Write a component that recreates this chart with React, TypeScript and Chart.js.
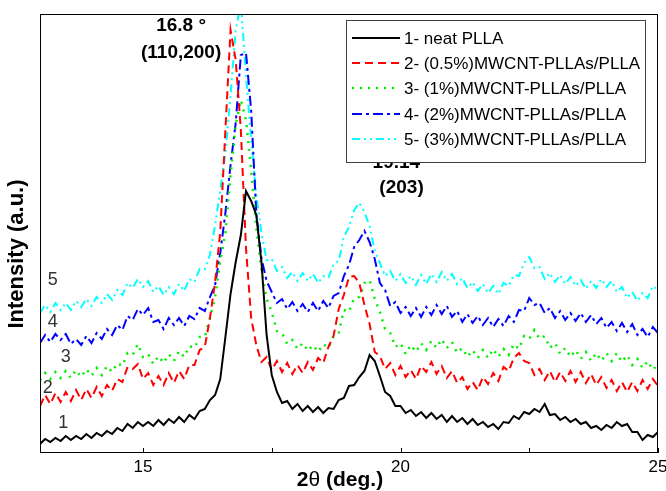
import React, { useEffect, useRef } from 'react';
import { Chart, registerables } from 'chart.js';

Chart.register(...registerables);

// 2θ positions (deg.)
const twoTheta = [
  13.0, 13.1, 13.2, 13.3, 13.4, 13.5, 13.6, 13.7, 13.8, 13.9,
  14.0, 14.1, 14.2, 14.3, 14.4, 14.5, 14.6, 14.7, 14.8, 14.9,
  15.0, 15.1, 15.2, 15.3, 15.4, 15.5, 15.6, 15.7, 15.8, 15.9,
  16.0, 16.1, 16.2, 16.3, 16.4, 16.5, 16.6, 16.7, 16.8, 16.9,
  17.0, 17.1, 17.2, 17.3, 17.4, 17.5, 17.6, 17.7, 17.8, 17.9,
  18.0, 18.1, 18.2, 18.3, 18.4, 18.5, 18.6, 18.7, 18.8, 18.9,
  19.0, 19.1, 19.2, 19.3, 19.4, 19.5, 19.6, 19.7, 19.8, 19.9,
  20.0, 20.1, 20.2, 20.3, 20.4, 20.5, 20.6, 20.7, 20.8, 20.9,
  21.0, 21.1, 21.2, 21.3, 21.4, 21.5, 21.6, 21.7, 21.8, 21.9,
  22.0, 22.1, 22.2, 22.3, 22.4, 22.5, 22.6, 22.7, 22.8, 22.9,
  23.0, 23.1, 23.2, 23.3, 23.4, 23.5, 23.6, 23.7, 23.8, 23.9,
  24.0, 24.1, 24.2, 24.3, 24.4, 24.5, 24.6, 24.7, 24.8, 24.9,
  25.0,
];

// Intensity (a.u., curves offset as in the figure)
const neatPLLA = [
  9, 14, 11, 15, 12, 17, 13, 17, 14, 19,
  15, 20, 17, 22, 19, 25, 22, 29, 25, 31,
  27, 31, 27, 33, 28, 34, 30, 36, 31, 38,
  34, 42, 44, 53, 58, 74, 116, 159, 191, 218,
  262, 252, 238, 191, 118, 78, 61, 50, 52, 44,
  49, 42, 47, 41, 46, 40, 45, 44, 53, 55,
  67, 68, 76, 82, 98, 92, 77, 61, 57, 47,
  47, 40, 43, 37, 41, 35, 40, 34, 38, 31,
  37, 31, 35, 29, 34, 28, 31, 26, 29, 24,
  31, 30, 37, 34, 41, 39, 44, 41, 49, 38,
  39, 33, 36, 31, 34, 29, 31, 25, 27, 23,
  28, 25, 31, 27, 29, 21, 21, 13, 18, 16,
  21,
];

const mwcnt05 = [
  47, 58, 49, 60, 51, 61, 52, 63, 53, 64,
  55, 66, 57, 68, 62, 74, 71, 86, 84, 89,
  74, 80, 68, 77, 68, 80, 70, 82, 74, 88,
  88, 103, 106, 135, 171, 221, 323, 423, 393, 323,
  205, 135, 108, 91, 96, 83, 92, 81, 90, 79,
  88, 80, 91, 83, 95, 90, 106, 117, 144, 158,
  176, 177, 170, 148, 129, 101, 97, 84, 90, 78,
  87, 76, 83, 74, 87, 81, 91, 79, 87, 75,
  82, 70, 76, 64, 71, 63, 76, 69, 80, 72,
  86, 82, 95, 100, 92, 90, 78, 84, 73, 82,
  71, 81, 72, 82, 71, 81, 70, 79, 68, 76,
  65, 73, 62, 71, 61, 71, 62, 73, 64, 74,
  67,
];

const mwcnt1 = [
  73, 80, 74, 81, 75, 82, 75, 83, 76, 84,
  77, 85, 78, 87, 81, 90, 87, 100, 98, 109,
  96, 99, 89, 97, 90, 99, 92, 102, 96, 107,
  105, 116, 116, 135, 156, 192, 220, 278, 328, 353,
  333, 283, 225, 183, 154, 141, 122, 120, 109, 113,
  104, 110, 102, 108, 101, 109, 105, 117, 120, 143,
  141, 155, 156, 170, 173, 154, 141, 124, 120, 106,
  110, 99, 108, 101, 110, 103, 112, 105, 114, 105,
  111, 100, 105, 96, 103, 95, 103, 95, 104, 96,
  104, 98, 109, 104, 117, 114, 123, 114, 117, 105,
  110, 99, 105, 96, 103, 94, 101, 92, 100, 92,
  100, 92, 100, 91, 98, 88, 94, 85, 92, 83,
  89,
];

const mwcnt2 = [
  110, 118, 111, 119, 113, 119, 109, 114, 108, 117,
  110, 120, 114, 124, 118, 128, 123, 137, 133, 144,
  138, 145, 131, 133, 124, 135, 128, 135, 127, 137,
  134, 145, 142, 156, 168, 200, 240, 288, 330, 398,
  400, 343, 240, 195, 172, 161, 150, 154, 144, 151,
  142, 149, 141, 150, 142, 152, 145, 157, 160, 177,
  188, 206, 213, 222, 211, 194, 170, 163, 147, 151,
  140, 146, 137, 145, 136, 146, 138, 148, 139, 147,
  136, 142, 131, 139, 130, 137, 128, 135, 126, 134,
  127, 137, 131, 143, 142, 155, 148, 150, 140, 145,
  135, 142, 133, 140, 132, 140, 131, 138, 129, 135,
  125, 131, 122, 130, 121, 129, 118, 124, 116, 126,
  120,
];

const mwcnt3 = [
  140, 148, 141, 150, 143, 150, 143, 152, 146, 154,
  147, 156, 150, 159, 153, 163, 158, 170, 165, 174,
  166, 172, 161, 167, 158, 166, 159, 169, 162, 174,
  171, 184, 184, 198, 228, 263, 300, 358, 423, 450,
  378, 313, 258, 220, 193, 194, 182, 186, 175, 181,
  172, 180, 172, 179, 170, 177, 175, 189, 192, 216,
  226, 243, 250, 241, 227, 202, 190, 177, 182, 172,
  179, 170, 177, 168, 178, 169, 179, 171, 181, 172,
  179, 169, 175, 165, 171, 162, 169, 160, 167, 159,
  170, 167, 178, 177, 190, 196, 185, 186, 174, 180,
  171, 178, 169, 176, 167, 173, 164, 172, 165, 174,
  166, 172, 161, 166, 155, 161, 152, 160, 155, 167,
  163,
];

const seriesLabels = [
  '1- neat PLLA',
  '2- (0.5%)MWCNT-PLLAs/PLLA',
  '3- (1%)MWCNT-PLLAs/PLLA',
  '4- (2%)MWCNT-PLLAs/PLLA',
  '5- (3%)MWCNT-PLLAs/PLLA',
];
const curveNumbers = ['1', '2', '3', '4', '5'];
const xTickLabels = [15, 20, 25];
const xTickMarks = [15, 17.5, 20, 22.5, 25];
const peakLabels = ['16.8 °', '(110,200)', '19.14', '(203)'];

const FONT = 'Arial, "Liberation Sans", sans-serif';

const lineStyles = [
  { color: '#000000', dash: [] as number[], width: 2 },
  { color: '#ff0000', dash: [8, 5], width: 2 },
  { color: '#00ee00', dash: [2, 6], width: 2.5 },
  { color: '#0000ff', dash: [10, 4, 3, 4], width: 2 },
  { color: '#00ffff', dash: [8, 4, 2, 4, 2, 4], width: 2 },
];

const seriesValues = [neatPLLA, mwcnt05, mwcnt1, mwcnt2, mwcnt3];

// label anchors in data coordinates
const numberAnchors = [
  { x: 13.45, y: 30 },
  { x: 13.15, y: 65 },
  { x: 13.5, y: 96 },
  { x: 13.25, y: 131 },
  { x: 13.25, y: 173 },
];
const peakAnchors = [
  { x: 15.74, y: 427 },
  { x: 15.74, y: 400 },
  { x: 19.92, y: 290 },
  { x: 20.02, y: 265 },
];

const overlay = {
  id: 'overlay',
  afterDatasetsDraw(chart: any) {
    const { ctx, chartArea: a, scales } = chart;
    const xs = scales.x;
    const ys = scales.y;
    ctx.save();

    // frame
    ctx.strokeStyle = '#000';
    ctx.lineWidth = 1;
    ctx.setLineDash([]);
    ctx.strokeRect(Math.round(a.left) + 0.5, Math.round(a.top) + 0.5,
      Math.round(a.right - a.left) - 1, Math.round(a.bottom - a.top) - 1);

    // inward tick marks
    ctx.beginPath();
    xTickMarks.forEach((v) => {
      const px = Math.round(xs.getPixelForValue(v)) + 0.5;
      ctx.moveTo(px, a.bottom);
      ctx.lineTo(px, a.bottom - 5);
    });
    ctx.stroke();

    // curve numbers
    ctx.fillStyle = '#333333';
    ctx.font = `18px ${FONT}`;
    ctx.textAlign = 'center';
    ctx.textBaseline = 'middle';
    curveNumbers.forEach((t, i) => {
      ctx.fillText(t, xs.getPixelForValue(numberAnchors[i].x), ys.getPixelForValue(numberAnchors[i].y));
    });

    // peak annotations
    ctx.fillStyle = '#000';
    ctx.font = `bold 19px ${FONT}`;
    peakLabels.forEach((t, i) => {
      ctx.fillText(t, xs.getPixelForValue(peakAnchors[i].x), ys.getPixelForValue(peakAnchors[i].y));
    });

    // legend
    const bx = 346, by = 20, bw = 299, bh = 142;
    ctx.fillStyle = '#ffffff';
    ctx.fillRect(bx, by, bw, bh);
    ctx.strokeStyle = '#404040';
    ctx.lineWidth = 1;
    ctx.strokeRect(bx + 0.5, by + 0.5, bw, bh);
    const rowY = [38, 63, 88, 114, 139];
    ctx.font = `17px ${FONT}`;
    ctx.textAlign = 'left';
    seriesLabels.forEach((label, i) => {
      const st = lineStyles[i];
      ctx.strokeStyle = st.color;
      ctx.lineWidth = st.width;
      ctx.setLineDash(st.dash);
      ctx.beginPath();
      ctx.moveTo(352, rowY[i]);
      ctx.lineTo(400, rowY[i]);
      ctx.stroke();
      ctx.setLineDash([]);
      ctx.fillStyle = '#000';
      ctx.fillText(label, 404, rowY[i] + 1);
    });

    // y-axis title
    ctx.save();
    ctx.translate(17, 254);
    ctx.rotate(-Math.PI / 2);
    ctx.font = `bold 22px ${FONT}`;
    ctx.textAlign = 'center';
    ctx.fillStyle = '#000';
    ctx.fillText('Intensity (a.u.)', 0, 0);
    ctx.restore();

    // x-axis title: 2θ (deg.)
    const parts = [
      { t: '2', f: `bold 21px ${FONT}` },
      { t: 'θ', f: `21px ${FONT}` },
      { t: ' (deg.)', f: `bold 21px ${FONT}` },
    ];
    let total = 0;
    parts.forEach((p) => { ctx.font = p.f; total += ctx.measureText(p.t).width; });
    let x0 = 340 - total / 2;
    ctx.textAlign = 'left';
    ctx.fillStyle = '#000';
    parts.forEach((p) => {
      ctx.font = p.f;
      ctx.fillText(p.t, x0, 480);
      x0 += ctx.measureText(p.t).width;
    });

    ctx.restore();
  },
};

export default function App() {
  const ref = useRef<HTMLCanvasElement>(null);

  useEffect(() => {
    const datasets = seriesValues.map((vals, i) => ({
      label: seriesLabels[i],
      data: twoTheta.map((x, j) => ({ x, y: vals[j] })),
      borderColor: lineStyles[i].color,
      borderWidth: lineStyles[i].width,
      borderDash: lineStyles[i].dash,
      borderCapStyle: 'butt' as const,
      pointRadius: 0,
      fill: false,
      tension: 0,
    }));

    const chart = new Chart(ref.current as HTMLCanvasElement, {
      type: 'line',
      data: { datasets },
      options: {
        animation: false,
        responsive: false,
        devicePixelRatio: 1,
        layout: { padding: { top: 14, right: 8, left: 40, bottom: 0 } },
        plugins: { legend: { display: false }, tooltip: { enabled: false } },
        scales: {
          x: {
            type: 'linear',
            min: 13,
            max: 25,
            grid: { display: false, drawTicks: false },
            border: { display: false },
            ticks: {
              color: '#000',
              font: { family: FONT, size: 17 },
              padding: 4,
              maxRotation: 0,
              callback: (v: any) => String(v),
            },
            afterBuildTicks: (s: any) => {
              s.ticks = xTickLabels.map((v) => ({ value: v }));
            },
            afterFit: (s: any) => {
              s.height = 38;
              s.paddingLeft = 0;
              s.paddingRight = 0;
            },
          },
          y: { display: false, min: 0, max: 439 },
        },
      },
      plugins: [overlay],
    });
    return () => chart.destroy();
  }, []);

  return (
    <div style={{ position: 'absolute', left: 0, top: 0, width: 666, height: 491, background: '#ffffff' }}>
      <canvas ref={ref} width={666} height={491} style={{ display: 'block' }} />
    </div>
  );
}
